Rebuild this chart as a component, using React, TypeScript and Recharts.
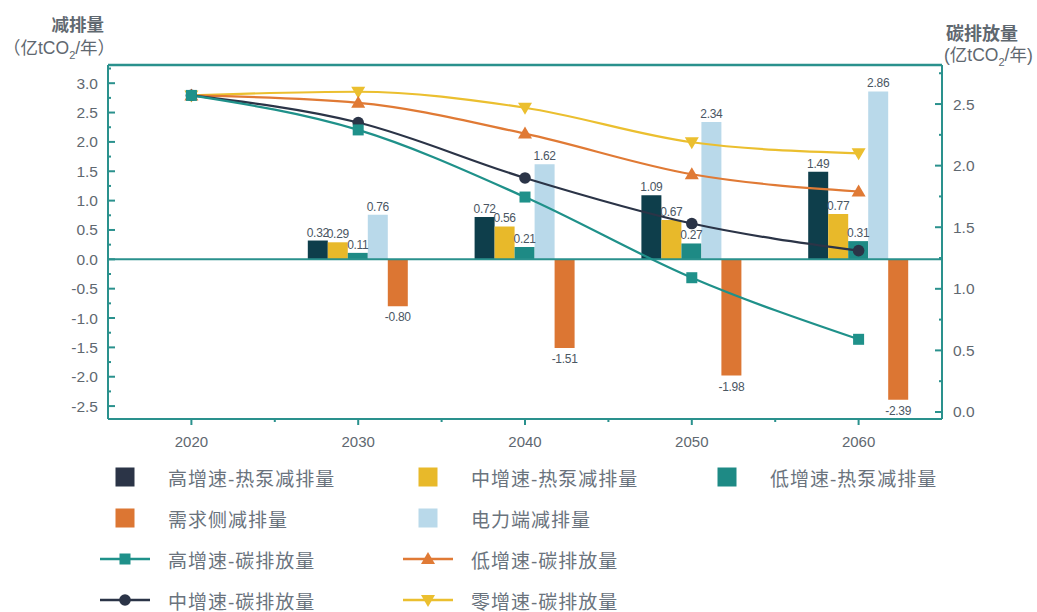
import { ComposedChart, Bar, Line, XAxis, YAxis, ReferenceLine, LabelList } from "recharts";

const years = ["2020", "2030", "2040", "2050", "2060"];

// 减排量（左轴）
const highHeatPump = [null, 0.32, 0.72, 1.09, 1.49];
const midHeatPump = [null, 0.29, 0.56, 0.67, 0.77];
const lowHeatPump = [null, 0.11, 0.21, 0.27, 0.31];
const demandSide = [null, -0.8, -1.51, -1.98, -2.39];
const powerSide = [null, 0.76, 1.62, 2.34, 2.86];

// 碳排放量（右轴）
const highEmission = [2.57, 2.29, 1.745, 1.09, 0.59];
const midEmission = [2.57, 2.35, 1.9, 1.53, 1.31];
const lowEmission = [2.57, 2.51, 2.26, 1.93, 1.79];
const zeroEmission = [2.57, 2.6, 2.47, 2.19, 2.1];

const leftTicks = [-2.5, -2.25, -2, -1.75, -1.5, -1.25, -1, -0.75, -0.5, -0.25, 0, 0.25, 0.5, 0.75, 1, 1.25, 1.5, 1.75, 2, 2.25, 2.5, 2.75, 3, 3.25];
const rightTicks = [0, 0.25, 0.5, 0.75, 1, 1.25, 1.5, 1.75, 2, 2.25, 2.5, 2.75];
const leftDomain = [-2.72, 3.31];
const rightDomain = [-0.057, 2.817];

const C = {
  frame: "#2a918d",
  dark: "#0e3e4b",
  yellow: "#e8b92a",
  teal: "#1e8a85",
  orange: "#dc7633",
  light: "#b9d9ea",
  lineTeal: "#1f918a",
  lineDark: "#2b3447",
  lineOrange: "#e07a35",
  lineYellow: "#ebbf2f",
  text: "#5f6870",
  label: "#4a5663",
};

const FONT = '"Liberation Sans", "Noto Sans CJK SC", sans-serif';

const data = years.map((year, i) => ({
  year,
  highHP: highHeatPump[i],
  midHP: midHeatPump[i],
  lowHP: lowHeatPump[i],
  demand: demandSide[i],
  power: powerSide[i],
  highE: highEmission[i],
  midE: midEmission[i],
  lowE: lowEmission[i],
  zeroE: zeroEmission[i],
}));

const isMajor = (v: number) => Math.abs(v * 2 - Math.round(v * 2)) < 1e-6;

const LeftTick = (p: any) => {
  const v = p.payload.value as number;
  const major = isMajor(v);
  return (
    <g>
      <line x1={p.x} x2={p.x + (major ? 7 : 3)} y1={p.y} y2={p.y} stroke={C.frame} strokeWidth={2} />
      {major && (
        <text x={p.x - 10} y={p.y} textAnchor="end" dominantBaseline="central" fontSize={15.5} fill={C.text} fontFamily={FONT}>
          {v.toFixed(1)}
        </text>
      )}
    </g>
  );
};

const RightTick = (p: any) => {
  const v = p.payload.value as number;
  const major = isMajor(v);
  return (
    <g>
      <line x1={p.x} x2={p.x - (major ? 7 : 3)} y1={p.y} y2={p.y} stroke={C.frame} strokeWidth={2} />
      {major && (
        <text x={p.x + 11} y={p.y} textAnchor="start" dominantBaseline="central" fontSize={15.5} fill={C.text} fontFamily={FONT}>
          {v.toFixed(1)}
        </text>
      )}
    </g>
  );
};

const BAND = 834 / years.length;

const BottomTick = (p: any) => {
  const last = p.index === years.length - 1;
  return (
    <g>
      <line x1={p.x} x2={p.x} y1={p.y} y2={p.y + 6} stroke={C.frame} strokeWidth={2} />
      {!last && (
        <line x1={p.x + BAND / 2} x2={p.x + BAND / 2} y1={p.y} y2={p.y + 3} stroke={C.frame} strokeWidth={2} />
      )}
      <text x={p.x} y={p.y + 22} textAnchor="middle" dominantBaseline="central" fontSize={15} fill={C.text} fontFamily={FONT}>
        {p.payload.value}
      </text>
    </g>
  );
};

const barLabel = (props: any) => {
  const { x, y, width, height, value } = props;
  if (value == null) return null;
  const top = Math.min(y, y + height);
  const bottom = Math.max(y, y + height);
  const ty = value >= 0 ? top - 8 : bottom + 11;
  return (
    <text x={x + width / 2} y={ty} textAnchor="middle" dominantBaseline="central" fontSize={12} fill={C.label} fontFamily={FONT} letterSpacing={-0.3}>
      {Number(value).toFixed(2)}
    </text>
  );
};

const squareDot = (color: string) => (p: any) => (
  <rect key={`sq${p.index}`} x={p.cx - 5.5} y={p.cy - 5.5} width={11} height={11} fill={color} />
);
const circleDot = (color: string) => (p: any) => (
  <circle key={`ci${p.index}`} cx={p.cx} cy={p.cy} r={5.8} fill={color} />
);
const upDot = (color: string) => (p: any) => (
  <polygon key={`up${p.index}`} points={`${p.cx},${p.cy - 7} ${p.cx - 7},${p.cy + 5} ${p.cx + 7},${p.cy + 5}`} fill={color} />
);
const downDot = (color: string) => (p: any) => (
  <polygon key={`dn${p.index}`} points={`${p.cx},${p.cy + 7} ${p.cx - 7},${p.cy - 5} ${p.cx + 7},${p.cy - 5}`} fill={color} />
);

type LegendItem = { name: string; color: string; kind: "bar" | "square" | "circle" | "up" | "down" };

const legendRows: LegendItem[][] = [
  [
    { name: "高增速-热泵减排量", color: "#2b3447", kind: "bar" },
    { name: "中增速-热泵减排量", color: C.yellow, kind: "bar" },
    { name: "低增速-热泵减排量", color: C.teal, kind: "bar" },
  ],
  [
    { name: "需求侧减排量", color: C.orange, kind: "bar" },
    { name: "电力端减排量", color: C.light, kind: "bar" },
  ],
  [
    { name: "高增速-碳排放量", color: C.lineTeal, kind: "square" },
    { name: "低增速-碳排放量", color: C.lineOrange, kind: "up" },
  ],
  [
    { name: "中增速-碳排放量", color: C.lineDark, kind: "circle" },
    { name: "零增速-碳排放量", color: C.lineYellow, kind: "down" },
  ],
];
const legendRowY = [477, 518, 559, 600];
const legendColX = [100, 403, 702];

const LegendIcon = ({ item }: { item: LegendItem }) => (
  <svg width={50} height={20} style={{ display: "block" }}>
    {item.kind === "bar" ? (
      <rect x={15.5} y={0.5} width={19} height={19} fill={item.color} />
    ) : (
      <>
        <line x1={0} x2={50} y1={10} y2={10} stroke={item.color} strokeWidth={2.5} />
        {item.kind === "square" && <rect x={19.5} y={4.5} width={11} height={11} fill={item.color} />}
        {item.kind === "circle" && <circle cx={25} cy={10} r={5.8} fill={item.color} />}
        {item.kind === "up" && <polygon points="25,3 18,15 32,15" fill={item.color} />}
        {item.kind === "down" && <polygon points="25,17 18,5 32,5" fill={item.color} />}
      </>
    )}
  </svg>
);

export default function App() {
  return (
    <div style={{ position: "absolute", left: 0, top: 0, width: 1037, height: 612, background: "#fff", fontFamily: FONT, overflow: "hidden" }}>
      {/* 左轴标题 */}
      <div style={{ position: "absolute", right: 1037 - 104, top: 11, fontSize: 17.5, fontWeight: 700, color: C.text, textAlign: "right" }}>
        减排量
      </div>
      <div style={{ position: "absolute", left: 3, top: 34, fontSize: 17.5, color: C.text, whiteSpace: "nowrap" }}>
        （亿tCO<sub style={{ fontSize: 11 }}>2</sub>/年）
      </div>
      {/* 右轴标题 */}
      <div style={{ position: "absolute", left: 946, top: 19, fontSize: 18, fontWeight: 700, color: C.text }}>
        碳排放量
      </div>
      <div style={{ position: "absolute", left: 944, top: 41, fontSize: 17.5, color: C.text, whiteSpace: "nowrap" }}>
        (亿tCO<sub style={{ fontSize: 11 }}>2</sub>/年)
      </div>

      <div style={{ position: "absolute", left: 0, top: 0 }}>
        <ComposedChart width={1037} height={460} data={data} margin={{ top: 65, right: 35, bottom: 11, left: 48 }} barGap={0} barSize={20}>
          <XAxis dataKey="year" xAxisId="b" tick={BottomTick} tickLine={false} tickSize={0} tickMargin={0} axisLine={{ stroke: C.frame, strokeWidth: 2 }} height={30} interval={0} />
          <YAxis yAxisId="l" domain={leftDomain} ticks={leftTicks} tick={LeftTick} tickLine={false} tickSize={0} tickMargin={0} axisLine={{ stroke: C.frame, strokeWidth: 2 }} width={60} interval={0} allowDataOverflow />
          <YAxis yAxisId="r" orientation="right" domain={rightDomain} ticks={rightTicks} tick={RightTick} tickLine={false} tickSize={0} tickMargin={0} axisLine={{ stroke: C.frame, strokeWidth: 2 }} width={60} interval={0} allowDataOverflow />
          <ReferenceLine yAxisId="l" xAxisId="b" y={0} stroke={C.frame} strokeWidth={2} />
          <ReferenceLine yAxisId="l" xAxisId="b" y={leftDomain[1] - 0.001} stroke={C.frame} strokeWidth={2.5} ifOverflow="visible" />

          <Bar xAxisId="b" yAxisId="l" dataKey="highHP" fill={C.dark} isAnimationActive={false}>
            <LabelList dataKey="highHP" content={barLabel} />
          </Bar>
          <Bar xAxisId="b" yAxisId="l" dataKey="midHP" fill={C.yellow} isAnimationActive={false}>
            <LabelList dataKey="midHP" content={barLabel} />
          </Bar>
          <Bar xAxisId="b" yAxisId="l" dataKey="lowHP" fill={C.teal} isAnimationActive={false}>
            <LabelList dataKey="lowHP" content={barLabel} />
          </Bar>
          <Bar xAxisId="b" yAxisId="l" dataKey="power" fill={C.light} isAnimationActive={false}>
            <LabelList dataKey="power" content={barLabel} />
          </Bar>
          <Bar xAxisId="b" yAxisId="l" dataKey="demand" fill={C.orange} isAnimationActive={false}>
            <LabelList dataKey="demand" content={barLabel} />
          </Bar>

          <Line xAxisId="b" yAxisId="r" type="monotone" dataKey="zeroE" stroke={C.lineYellow} strokeWidth={2.2} dot={downDot(C.lineYellow)} activeDot={false} isAnimationActive={false} />
          <Line xAxisId="b" yAxisId="r" type="monotone" dataKey="lowE" stroke={C.lineOrange} strokeWidth={2.2} dot={upDot(C.lineOrange)} activeDot={false} isAnimationActive={false} />
          <Line xAxisId="b" yAxisId="r" type="monotone" dataKey="midE" stroke={C.lineDark} strokeWidth={2.2} dot={circleDot(C.lineDark)} activeDot={false} isAnimationActive={false} />
          <Line xAxisId="b" yAxisId="r" type="monotone" dataKey="highE" stroke={C.lineTeal} strokeWidth={2.2} dot={squareDot(C.lineTeal)} activeDot={false} isAnimationActive={false} />
        </ComposedChart>
      </div>

      {/* 图例 */}
      {legendRows.map((row, r) =>
        row.map((item, c) => (
          <div
            key={item.name}
            style={{ position: "absolute", left: legendColX[c], top: legendRowY[r] - 12, height: 24, display: "flex", alignItems: "center" }}
          >
            <LegendIcon item={item} />
            <span style={{ marginLeft: 18, fontSize: 19, letterSpacing: 1, color: "#6a737d", whiteSpace: "nowrap" }}>{item.name}</span>
          </div>
        ))
      )}
    </div>
  );
}
